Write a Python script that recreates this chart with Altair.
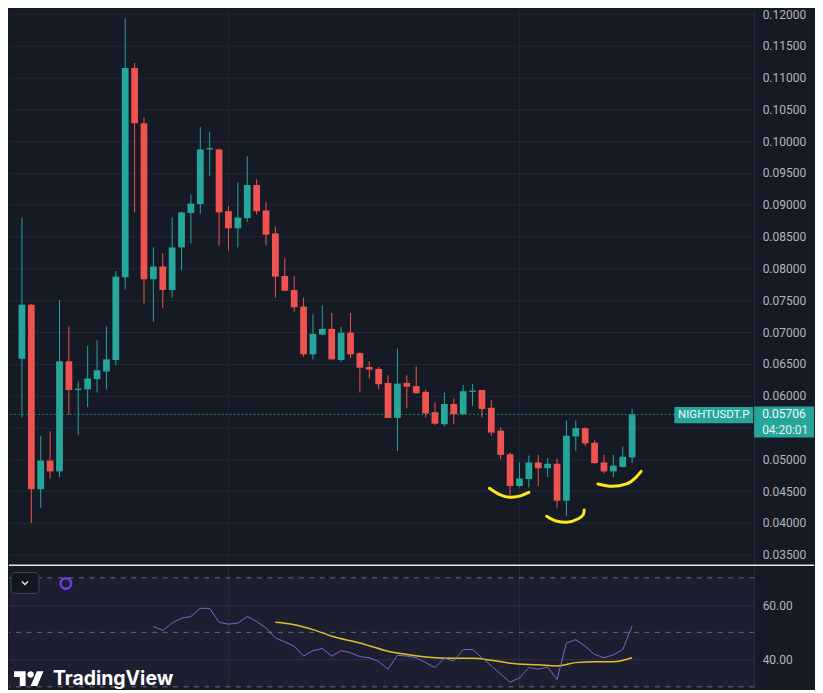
import altair as alt
import pandas as pd

# ---------------- data ----------------
opens = [0.0658, 0.0743, 0.0453, 0.0498, 0.0481, 0.0654, 0.0609, 0.0610, 0.0626, 0.0638,
         0.0656, 0.0786, 0.1115, 0.1028, 0.0783, 0.0803, 0.0766, 0.0833, 0.0887, 0.0901,
         0.0987, 0.0987, 0.0890, 0.0863, 0.0879, 0.0931, 0.0891, 0.0855, 0.0788, 0.0766,
         0.0740, 0.0665, 0.0696, 0.0705, 0.0656, 0.0699, 0.0667, 0.0645, 0.0642, 0.0620,
         0.0565, 0.0620, 0.0615, 0.0606, 0.0574, 0.0555, 0.0587, 0.0571, 0.0606, 0.0609,
         0.0581, 0.0545, 0.0508, 0.0458, 0.0469, 0.0495, 0.0486, 0.0493, 0.0435, 0.0536,
         0.0549, 0.0526, 0.0495, 0.0481, 0.0488, 0.0503]
highs = [0.0879, 0.0744, 0.0537, 0.0544, 0.0750, 0.0709, 0.0622, 0.0678, 0.0687, 0.0709,
         0.0796, 0.1193, 0.1123, 0.1037, 0.0833, 0.0824, 0.0880, 0.0889, 0.0916, 0.1022,
         0.1015, 0.0988, 0.0898, 0.0935, 0.0976, 0.0940, 0.0904, 0.0866, 0.0816, 0.0788,
         0.0754, 0.0728, 0.0742, 0.0730, 0.0708, 0.0730, 0.0668, 0.0654, 0.0645, 0.0632,
         0.0674, 0.0632, 0.0646, 0.0609, 0.0589, 0.0605, 0.0596, 0.0617, 0.0618, 0.0609,
         0.0593, 0.0550, 0.0511, 0.0495, 0.0506, 0.0507, 0.0502, 0.0501, 0.0561, 0.0561,
         0.0550, 0.0530, 0.0507, 0.0507, 0.0520, 0.0579]
lows = [0.0566, 0.0400, 0.0424, 0.0470, 0.0472, 0.0570, 0.0539, 0.0582, 0.0605, 0.0610,
        0.0648, 0.0767, 0.0888, 0.0745, 0.0716, 0.0738, 0.0754, 0.0797, 0.0839, 0.0886,
        0.0945, 0.0836, 0.0828, 0.0833, 0.0873, 0.0885, 0.0836, 0.0754, 0.0764, 0.0732,
        0.0661, 0.0657, 0.0695, 0.0657, 0.0653, 0.0659, 0.0605, 0.0627, 0.0610, 0.0565,
        0.0513, 0.0580, 0.0603, 0.0566, 0.0554, 0.0552, 0.0555, 0.0570, 0.0584, 0.0566,
        0.0537, 0.0500, 0.0444, 0.0456, 0.0456, 0.0458, 0.0472, 0.0424, 0.0411, 0.0513,
        0.0521, 0.0493, 0.0478, 0.0472, 0.0487, 0.0494]
closes = [0.0743, 0.0453, 0.0498, 0.0481, 0.0654, 0.0609, 0.0611, 0.0627, 0.0640, 0.0657,
          0.0787, 0.1115, 0.1028, 0.0783, 0.0803, 0.0766, 0.0833, 0.0888, 0.0902, 0.0987,
          0.0989, 0.0888, 0.0863, 0.0880, 0.0931, 0.0890, 0.0853, 0.0787, 0.0765, 0.0739,
          0.0665, 0.0697, 0.0705, 0.0657, 0.0699, 0.0665, 0.0644, 0.0641, 0.0618, 0.0565,
          0.0619, 0.0614, 0.0604, 0.0572, 0.0556, 0.0587, 0.0571, 0.0607, 0.0608, 0.0579,
          0.0542, 0.0507, 0.0458, 0.0470, 0.0495, 0.0486, 0.0493, 0.0435, 0.0537, 0.0549,
          0.0525, 0.0494, 0.0481, 0.0490, 0.0504, 0.05706]

rsi_start = 14
rsi_vals = [52.2, 50.7, 53.4, 55.2, 55.8, 58.8, 58.8, 53.7, 53.0, 53.4,
            55.8, 54.0, 51.6, 48.0, 46.5, 44.9, 41.3, 43.3, 44.1, 41.3,
            43.3, 42.5, 41.1, 40.7, 39.3, 36.5, 41.6, 41.3, 40.7, 38.9,
            37.1, 40.5, 39.5, 43.7, 43.7, 40.7, 37.7, 34.7, 31.7, 33.3,
            37.1, 36.5, 37.3, 32.7, 46.1, 47.3, 44.9, 41.9, 40.7, 41.7,
            43.7, 52.4]
ma_idx = [27, 29, 31, 33, 36, 39, 41, 43, 46, 48, 50, 52, 55, 57, 59, 61, 63, 65]
ma_vals = [53.7, 52.8, 51.0, 48.6, 46.1, 43.1, 41.9, 41.0, 40.5, 40.5, 39.8, 38.7,
           38.1, 37.7, 38.9, 39.2, 39.2, 40.7]

arc_ids = [1] * 5 + [2] * 6 + [3] * 5
arc_i = [49.8, 50.9, 52.0, 53.0, 54.0,
         55.9, 56.9, 58.0, 59.2, 59.8, 59.9,
         61.35, 62.9, 64.4, 65.4, 65.96]
arc_p = [0.04544, 0.04445, 0.04403, 0.04422, 0.04481,
         0.04105, 0.04030, 0.04011, 0.04061, 0.04132, 0.04205,
         0.04613, 0.04575, 0.04613, 0.04716, 0.04810]

price_ticks = [0.035, 0.040, 0.045, 0.050, 0.055, 0.060, 0.065, 0.070, 0.075,
               0.080, 0.085, 0.090, 0.095, 0.100, 0.105, 0.110, 0.115, 0.120]
rsi_ticks = [40, 60]
rsi_bands = [70, 50, 30]
time_grid = [22, 53]
symbol = "NIGHTUSDT.P"
countdown = "04:20:01"

# ---------------- styling ----------------
BG = "#161a25"
GRID = "#242733"
GREEN = "#26a69a"
RED = "#ef5350"
LABEL = "#b2b5be"
FONT = "Roboto"
W, H1, H2 = 747, 554, 123

df = pd.DataFrame({"i": list(range(len(opens))), "open": opens, "high": highs,
                   "low": lows, "close": closes})
df["dir"] = ["up" if c >= o else "down" for o, c in zip(opens, closes)]
rsi_df = pd.DataFrame({"i": list(range(rsi_start, rsi_start + len(rsi_vals))), "rsi": rsi_vals})
ma_df = pd.DataFrame({"i": ma_idx, "ma": ma_vals})
arc_df = pd.DataFrame({"arc": arc_ids, "i": arc_i, "p": arc_p})
last_df = pd.DataFrame({"p": [closes[-1]], "sym": [symbol],
                        "price": [f"{closes[-1]:.5f}"], "cd": [countdown]})
dummy = pd.DataFrame({"a": [0]})

xs = alt.Scale(domain=[-1.38, 78.0], nice=False, zero=False)
ys = alt.Scale(domain=[0.03379, 0.12063], nice=False, zero=False)
ys2 = alt.Scale(domain=[29.9, 74.9], nice=False, zero=False)

# labels hidden under the last-price tag are blanked; the top label is kept inside the page
y_axis = alt.Axis(orient="right", values=price_ticks, format=".5f", grid=True,
                  gridColor=GRID, gridWidth=1, domain=True, domainColor="#2a2e39",
                  ticks=False, labelPadding=8, labelColor=LABEL, labelFont=FONT,
                  labelFontSize=12, title=None,
                  labelExpr="abs(datum.value - 0.055) < 0.0001 ? '' : datum.label",
                  labelBaseline={"condition": {"test": "datum.value > 0.1195", "value": "top"},
                                 "value": "middle"},
                  labelOffset={"condition": {"test": "datum.value > 0.1195", "value": -4},
                               "value": 0})
rsi_axis = alt.Axis(orient="right", values=rsi_ticks, format=".2f", grid=True,
                    gridColor="#2d2b40", gridWidth=1, domain=True, domainColor="#2a2e39",
                    ticks=False, labelPadding=8, labelColor=LABEL, labelFont=FONT,
                    labelFontSize=12, title=None)


def X(f):
    return alt.X(f"{f}:Q", scale=xs, axis=None)


def Y(f):
    return alt.Y(f"{f}:Q", scale=ys, axis=y_axis)


def Y2(f):
    return alt.Y(f"{f}:Q", scale=ys2, axis=rsi_axis)


COL = alt.Color("dir:N", scale=alt.Scale(domain=["up", "down"], range=[GREEN, RED]), legend=None)

# ---------------- main (price) pane ----------------
vgrid = alt.Chart(pd.DataFrame({"i": time_grid})).mark_rule(color=GRID, strokeWidth=1).encode(x=X("i"))
wicks = alt.Chart(df).mark_rule(strokeWidth=1).encode(x=X("i"), y=Y("low"), y2="high:Q", color=COL)
bodies = alt.Chart(df).transform_calculate(
    xl="datum.i - 0.36", xr="datum.i + 0.36"
).mark_rect(strokeWidth=0).encode(x=X("xl"), x2="xr:Q", y=Y("open"), y2="close:Q", color=COL)
pline = alt.Chart(last_df).mark_rule(color=GREEN, strokeDash=[1.5, 2.5], strokeWidth=1,
                                     opacity=0.9).encode(y=Y("p"))
arcs = alt.Chart(arc_df).mark_line(color="#ffe81a", strokeWidth=3, interpolate="monotone",
                                   strokeCap="round").encode(x=X("i"), y=Y("p"), detail="arc:N")

name_box = alt.Chart(last_df).mark_point(
    shape="M-1,-0.19L1,-0.19L1,0.228L-1,0.228Z", size=79 ** 2, filled=True,
    fill=GREEN, opacity=1, strokeWidth=0
).encode(x=alt.value(706.5), y=Y("p"))
price_box = alt.Chart(last_df).mark_point(
    shape="M-1,-0.26L1,-0.26L1,0.773L-1,0.773Z", size=60 ** 2, filled=True,
    fill=GREEN, opacity=1, strokeWidth=0
).encode(x=alt.value(777), y=Y("p"))
name_txt = alt.Chart(last_df).mark_text(font=FONT, fontSize=11.5, color="#f0fbfa",
                                        align="center", baseline="middle", dy=1).encode(
    x=alt.value(706.5), y=Y("p"), text="sym:N")
price_txt = alt.Chart(last_df).mark_text(font=FONT, fontSize=12, color="#f0fbfa",
                                         align="left", baseline="middle").encode(
    x=alt.value(755), y=Y("p"), text="price:N")
cd_txt = alt.Chart(last_df).mark_text(font=FONT, fontSize=12, color="#e0f2f1",
                                      align="left", baseline="middle", dy=15.5).encode(
    x=alt.value(755), y=Y("p"), text="cd:N")

main = alt.layer(vgrid, wicks, bodies, pline, arcs, name_box, price_box,
                 name_txt, price_txt, cd_txt).properties(width=W, height=H1)

# ---------------- RSI pane ----------------
band = alt.Chart(pd.DataFrame({"top": [rsi_bands[0]], "bot": [rsi_bands[-1]]})).mark_rect(
    color="#7e57c2", opacity=0.075).encode(x=alt.value(0), x2=alt.value(W),
                                           y=Y2("top"), y2="bot:Q")
dashes = alt.Chart(pd.DataFrame({"lvl": rsi_bands})).mark_rule(
    color="#787b86", strokeDash=[5, 5.5], strokeWidth=1, opacity=0.85).encode(y=Y2("lvl"))
vgrid2 = alt.Chart(pd.DataFrame({"i": time_grid})).mark_rule(color="#2a2e39", strokeWidth=1).encode(x=X("i"))
rsi_line = alt.Chart(rsi_df).mark_line(color="#7e64cc", strokeWidth=1).encode(x=X("i"), y=Y2("rsi"))
ma_line = alt.Chart(ma_df).mark_line(color="#e2bf2c", strokeWidth=1.5,
                                     interpolate="monotone").encode(x=X("i"), y=Y2("ma"))
sep = alt.Chart(dummy).mark_rule(color="#e6e8ee", strokeWidth=1.5).encode(
    x=alt.value(0), x2=alt.value(807), y=alt.value(0.75))
button = alt.Chart(dummy).mark_rect(fill="#131722", stroke="#434651", strokeWidth=1,
                                    cornerRadius=4).encode(
    x=alt.value(2), x2=alt.value(30), y=alt.value(8), y2=alt.value(29))
chevron = alt.Chart(dummy).mark_point(shape="M-1,-0.5L0,0.5L1,-0.5", size=36, filled=False,
                                      color="#e6e8ee", strokeWidth=1.5, opacity=1).encode(
    x=alt.value(16), y=alt.value(18.5))
ring = alt.Chart(dummy).mark_point(shape="circle", size=110, filled=False, color="#6a3cf0",
                                   strokeWidth=2.5, opacity=1).encode(
    x=alt.value(57), y=alt.value(19))
logo_path = ("M-0.222,0.444L-0.611,0.444L-0.611,-0.167L-1,-0.167L-1,-0.556L-0.222,-0.556Z"
             "M0.556,0.444L0.111,0.444L0.528,-0.556L0.972,-0.556Z"
             "M-0.111,-0.333A0.222,0.222,0,1,0,0.333,-0.333A0.222,0.222,0,1,0,-0.111,-0.333Z")
logo = alt.Chart(dummy).mark_point(shape=logo_path, size=900, filled=True, fill="#ffffff",
                                   strokeWidth=0, opacity=1).encode(
    x=alt.value(20), y=alt.value(115.3))
brand = alt.Chart(pd.DataFrame({"t": ["TradingView"]})).mark_text(
    font="Inter", fontSize=19.5, fontWeight="bold", color="#ffffff", align="left",
    baseline="middle").encode(x=alt.value(44), y=alt.value(115), text="t:N")

rsi = alt.layer(band, vgrid2, dashes, ma_line, rsi_line, sep, button, chevron, ring,
                logo, brand).properties(width=W, height=H2)

chart = alt.vconcat(main, rsi, spacing=0).properties(
    padding=0, background=BG
).configure_view(stroke=None)

chart.save("out.html", embed_options={"renderer": "svg", "actions": False})
